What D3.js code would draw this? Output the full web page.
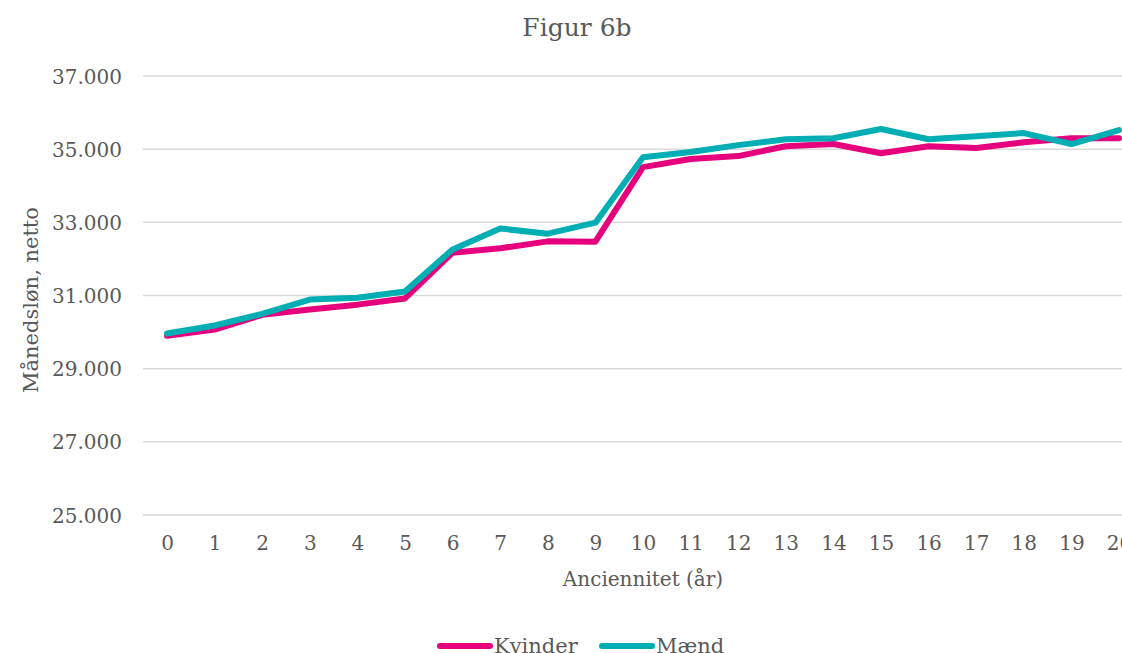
<!DOCTYPE html>
<html>
<head>
<meta charset="utf-8">
<script src="https://cdnjs.cloudflare.com/ajax/libs/d3/7.8.5/d3.min.js"></script>
<style>
  html, body { margin: 0; padding: 0; background: #fff; overflow: hidden; }
  svg text { font-family: "DejaVu Serif", serif; fill: #595959; }
</style>
</head>
<body>
<div id="chart"></div>
<script>
    'use strict';

    var years = d3.range(0, 21);
    var kvinder = [29900, 30070, 30470, 30620, 30750, 30920, 32170, 32290, 32480, 32470,
                   34510, 34730, 34810, 35080, 35140, 34890, 35080, 35030, 35190, 35300, 35300];
    var maend = [29960, 30180, 30500, 30890, 30940, 31110, 32260, 32830, 32690, 32990,
                 34780, 34920, 35110, 35270, 35300, 35550, 35270, 35350, 35440, 35140, 35520];
    var yTicks = [25000, 27000, 29000, 31000, 33000, 35000, 37000];
    var seriesNames = ['Kvinder', 'Mænd'];
    var seriesColors = ['#e6007e', '#00aeb3'];

    var stage = { width: 1122, height: 653 };

    var svg = d3.select('#chart')
        .append('svg')
        .attr('width', stage.width)
        .attr('height', stage.height);

    var x = d3.scaleLinear().domain([0, 20]).range([167, 1119]);
    var y = d3.scaleLinear().domain([25000, 37000]).range([515, 76]);

    var fmt = function(d) { return d3.format(',')(d).replace(/,/g, '.'); };

    // grid lines
    svg.append('g')
        .attr('class', 'grid')
        .selectAll('line').data(yTicks).enter()
        .append('line')
        .attr('x1', 143)
        .attr('x2', stage.width)
        .attr('y1', function(d) { return y(d); })
        .attr('y2', function(d) { return y(d); })
        .attr('stroke', '#d9d9d9')
        .attr('stroke-width', 1.5);

    // y axis labels
    var yAxis = svg.append('g')
        .attr('transform', 'translate(122,0)')
        .call(d3.axisLeft(y).tickValues(yTicks).tickFormat(fmt).tickSize(0).tickPadding(0));
    yAxis.select('.domain').remove();
    yAxis.selectAll('text').attr('font-size', 20).attr('dy', '0.35em');

    // x axis labels
    var xAxis = svg.append('g')
        .attr('transform', 'translate(0,531)')
        .call(d3.axisBottom(x).tickValues(years).tickFormat(d3.format('d')).tickSize(0).tickPadding(0));
    xAxis.select('.domain').remove();
    xAxis.selectAll('text').attr('font-size', 20).attr('dy', '0.95em');

    // titles
    svg.append('text')
        .attr('x', 577).attr('y', 36)
        .attr('text-anchor', 'middle')
        .attr('font-size', 25)
        .text('Figur 6b');

    svg.append('text')
        .attr('x', 643).attr('y', 586)
        .attr('text-anchor', 'middle')
        .attr('font-size', 20)
        .text('Anciennitet (år)');

    svg.append('text')
        .attr('transform', 'translate(38,300) rotate(-90)')
        .attr('text-anchor', 'middle')
        .attr('font-size', 21)
        .text('Månedsløn, netto');

    // lines
    var line = d3.line()
        .x(function(d, i) { return x(years[i]); })
        .y(function(d) { return y(d); });

    svg.append('g')
        .attr('class', 'series')
        .selectAll('path').data([kvinder, maend]).enter()
        .append('path')
        .attr('d', line)
        .attr('fill', 'none')
        .attr('stroke', function(d, i) { return seriesColors[i]; })
        .attr('stroke-width', 6)
        .attr('stroke-linejoin', 'round')
        .attr('stroke-linecap', 'round');

    // legend
    var legendX = [438, 600];
    var legend = svg.append('g')
        .attr('class', 'legend')
        .selectAll('g').data(seriesNames).enter()
        .append('g')
        .attr('transform', function(d, i) { return 'translate(' + legendX[i] + ',646)'; });

    legend.append('line')
        .attr('x1', 2).attr('x2', 52)
        .attr('y1', 0).attr('y2', 0)
        .attr('stroke', function(d, i) { return seriesColors[i]; })
        .attr('stroke-width', 6)
        .attr('stroke-linecap', 'round');

    legend.append('text')
        .attr('x', 56).attr('y', 7)
        .attr('font-size', 21)
        .text(function(d) { return d; });
</script>
</body>
</html>
